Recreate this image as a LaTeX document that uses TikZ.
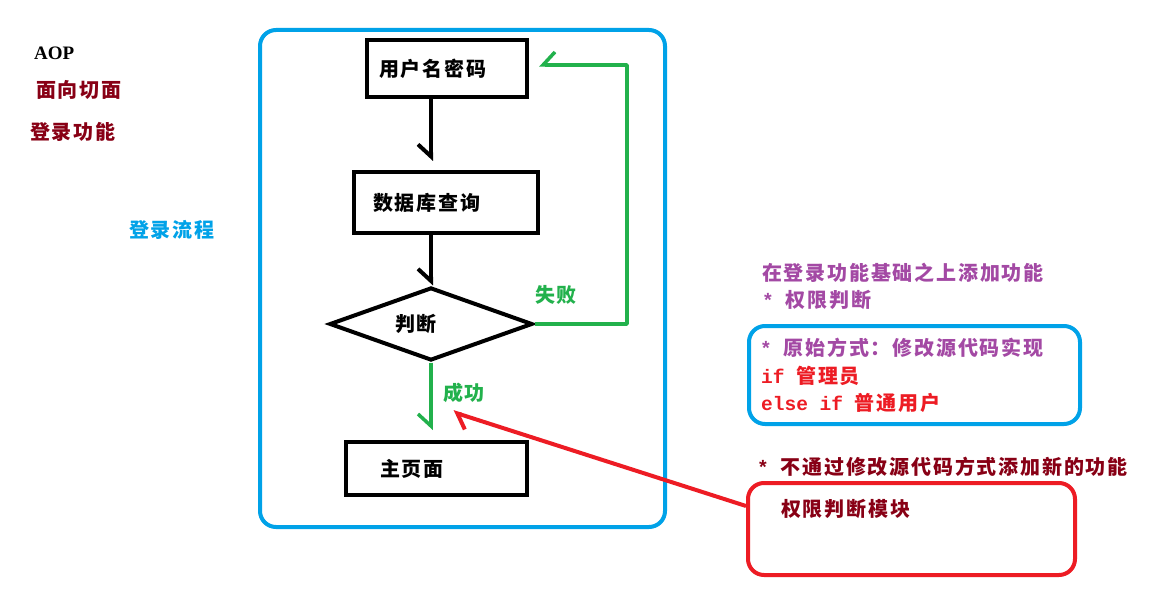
\documentclass[tikz,border=0pt]{standalone}
\usepackage{fontspec}
\usetikzlibrary{arrows.meta,shapes.geometric}
\newfontfamily\cjk[LetterSpace=9]{Noto Sans CJK SC}
\newfontfamily\mono{Liberation Mono}
\newfontfamily\serifl{Liberation Serif}
\newcommand\cjkf{\cjk\bfseries\fontsize{20}{24}\selectfont}
\newcommand\monof{\mono\bfseries\fontsize{19.5}{22}\selectfont}
\definecolor{pblue}{HTML}{00A2E8}
\definecolor{pgreen}{HTML}{22B14C}
\definecolor{pred}{HTML}{ED1C24}
\definecolor{pdred}{HTML}{880015}
\definecolor{ppurple}{HTML}{A349A4}
\tikzset{
  txt/.style={anchor=west, inner sep=0pt, font=\cjkf},
  flowbox/.style={draw=black, line width=4pt, rectangle, align=left, inner ysep=0pt},
  roundbox/.style={draw=#1, line width=4pt, rounded corners=16pt, rectangle, inner sep=0pt},
  barbR/.style={-{Straight Barb[harpoon,swap,length=12pt,width=26pt]}},
  barbL/.style={-{Straight Barb[harpoon,length=12pt,width=26pt]}},
  blkarr/.style={draw=black, line width=4pt, barbR},
  grnarr/.style={draw=pgreen, line width=3.5pt, line join=round},
}
\begin{document}
\begin{tikzpicture}[x=1pt, y=-1pt]
\fill[white] (0,0) rectangle (1168,596);
\useasboundingbox (0,0) rectangle (1168,596);

% left notes
\node[txt, font=\serifl\bfseries\fontsize{19}{22}\selectfont] (aop) at (34,53) {AOP};
\node[txt, text=pdred] (mxqm) at (36,90) {面向切面};
\node[txt, text=pdred] (dlgn) at (30,132) {登录功能};
\node[txt, text=pblue] (dllc) at (129,230) {登录流程};

% flow container
\node[roundbox=pblue, minimum width=405pt, minimum height=497pt] (flow) at (462.5,278.5) {};

% flow steps
\node[flowbox, minimum height=57pt, text width=136pt, inner xsep=12pt, font=\cjkf] (u) at (447,69) {用户名密码};
\node[flowbox, minimum height=61pt, text width=146pt, inner xsep=19pt, font=\cjkf] (d) at (446,202.5) {数据库查询};
\node[diamond, draw=black, line width=4pt, minimum width=203pt, minimum height=73pt, inner sep=0pt, aspect=2.78,
      label={[font=\cjkf, xshift=-15pt]center:判断}] (j) at (431,324) {};
\node[flowbox, minimum height=53pt, text width=113pt, inner xsep=34pt, font=\cjkf] (m) at (436.5,468.5) {主页面};

% connectors
\draw[blkarr] (u.south -| j.north) -- ([yshift=9pt]d.north -| j.north);
\draw[blkarr] (d.south -| j.north) -- (j.north);
\draw[grnarr, barbR] (j.south) -- ([yshift=10pt]m.north -| j.south);
\coordinate (failtip) at ([xshift=10pt,yshift=4pt]u.east);
\draw[grnarr, barbR] (j.east) -- (627,324) -- (627,65) -- (failtip);
\node[txt, text=pgreen] (fail) at (535,295) {失败};
\node[txt, text=pgreen] (succ) at (443,393) {成功};

% right notes
\node[txt, text=ppurple] (n1) at (762,273) {在登录功能基础之上添加功能};
\node[txt, text=ppurple] (n2) at (762,300) {{\monof *~}权限判断};

\node[roundbox=pblue, minimum width=331pt, minimum height=98pt] (orig) at (914.5,375) {};
\node[txt, text=ppurple] (o1) at (760,348) {{\monof *~}原始方式：修改源代码实现};
\node[txt, text=pred] (o2) at (761,376) {{\monof if~}管理员};
\node[txt, text=pred] (o3) at (761,403) {{\monof else~if~}普通用户};

\node[txt, text=pdred] (n3) at (757,467) {{\monof *~}不通过修改源代码方式添加新的功能};

\node[roundbox=pred, minimum width=327pt, minimum height=92pt] (r) at (911.5,529) {};
\node[txt, text=pdred] (rt) at (781,509) {权限判断模块};

\coordinate (redtip) at (453,412);
\draw[draw=pred, line width=4pt, barbL] ([yshift=23pt]r.west) -- (redtip);
\end{tikzpicture}
\end{document}
